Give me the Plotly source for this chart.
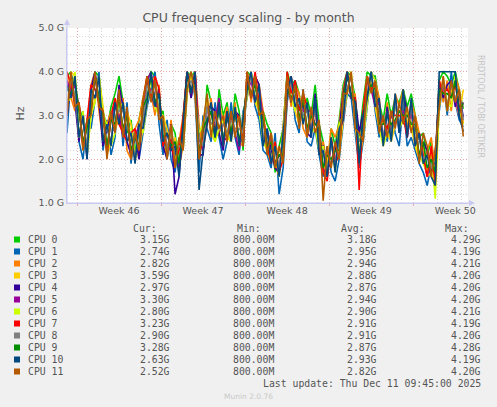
import pandas as pd
import plotly.graph_objects as go

# Data: CPU frequency in GHz, one sample every 8 hours
times = pd.date_range("2025-11-09 04:00", periods=100, freq="8h")

cpu0 = [3.9, 4.0, 3.3, 3.2, 2.9, 2.2, 3.6, 4.0, 3.9, 3.1,
        2.7, 3.2, 3.5, 3.9, 3.3, 2.6, 2.9, 2.1, 2.9, 3.4,
        3.8, 4.0, 3.9, 3.0, 3.1, 2.0, 2.8, 2.6, 1.8, 3.0,
        4.0, 3.9, 4.0, 2.6, 2.2, 3.7, 3.3, 2.4, 3.6, 3.0,
        3.3, 2.5, 3.5, 3.1, 2.2, 4.0, 3.9, 3.8, 3.0, 3.1,
        2.8, 2.6, 1.7, 2.3, 2.7, 4.0, 3.7, 3.8, 3.5, 2.9,
        3.4, 3.0, 3.7, 2.8, 2.4, 1.6, 2.7, 2.3, 2.9, 3.7,
        4.0, 3.9, 3.4, 2.5, 3.3, 4.0, 3.9, 3.9, 3.3, 2.9,
        3.5, 3.0, 3.4, 3.3, 3.6, 3.2, 3.5, 3.0, 2.5, 2.6,
        2.1, 2.4, 1.7, 3.8, 4.0, 3.9, 3.7, 4.0, 3.6, 3.15]
cpu1 = [2.6, 3.9, 3.8, 2.4, 2.0, 2.9, 2.7, 3.4, 4.0, 2.2,
        2.9, 2.1, 2.5, 3.6, 2.3, 3.3, 1.9, 2.7, 2.0, 2.6,
        3.2, 3.6, 4.0, 2.8, 2.1, 2.9, 2.0, 1.7, 2.5, 2.2,
        3.5, 4.0, 3.4, 1.7, 3.0, 2.7, 2.4, 3.3, 2.5, 2.0,
        2.4, 3.3, 2.5, 2.1, 3.1, 3.4, 4.0, 3.2, 2.9, 2.2,
        2.1, 1.8, 2.6, 1.2, 1.8, 3.3, 3.9, 2.9, 2.6, 3.6,
        2.4, 2.3, 2.7, 2.1, 1.6, 2.3, 1.7, 1.5, 2.0, 2.8,
        3.5, 3.4, 2.6, 1.8, 2.4, 3.2, 4.0, 3.1, 2.5, 3.0,
        2.4, 3.1, 2.6, 2.3, 3.3, 2.3, 2.5, 2.2, 1.9, 1.7,
        1.4, 1.9, 2.2, 3.1, 3.8, 3.0, 4.0, 3.3, 2.9, 2.74]
cpu2 = [3.9, 3.4, 3.1, 3.3, 2.2, 2.8, 3.7, 4.0, 3.1, 2.4,
        2.8, 3.1, 2.7, 2.9, 3.4, 2.2, 2.0, 2.7, 2.9, 3.4,
        3.9, 3.5, 3.0, 3.7, 2.3, 2.1, 2.9, 1.8, 2.4, 3.0,
        4.0, 3.4, 4.0, 2.8, 2.2, 2.8, 3.4, 2.5, 2.6, 2.8,
        3.2, 2.5, 3.3, 2.4, 2.3, 4.0, 3.3, 3.9, 3.7, 3.1,
        2.3, 2.6, 1.9, 1.6, 2.8, 3.9, 3.2, 3.7, 3.5, 2.7,
        2.5, 2.9, 3.3, 2.2, 2.4, 1.9, 2.7, 2.5, 2.8, 3.6,
        4.0, 3.4, 3.5, 2.0, 3.1, 3.9, 3.6, 3.8, 3.4, 2.3,
        3.3, 2.6, 3.5, 3.2, 3.6, 2.7, 3.3, 3.0, 2.6, 2.0,
        2.2, 2.5, 1.7, 3.8, 3.3, 3.8, 3.1, 3.9, 3.6, 2.82]
cpu3 = [3.2, 4.0, 3.9, 2.5, 3.0, 2.1, 3.0, 3.4, 3.9, 3.2,
        2.1, 2.4, 3.2, 3.5, 2.6, 3.1, 2.8, 2.0, 2.2, 2.7,
        3.3, 3.9, 3.8, 3.0, 3.0, 2.7, 2.2, 2.5, 1.8, 2.3,
        3.5, 3.9, 3.5, 2.0, 2.8, 3.4, 2.6, 2.4, 3.3, 2.9,
        2.5, 2.4, 3.2, 2.3, 3.0, 3.5, 4.0, 3.3, 3.1, 3.0,
        2.2, 1.9, 2.3, 2.2, 2.0, 3.4, 3.9, 3.1, 2.8, 3.5,
        3.2, 2.7, 2.7, 2.7, 1.7, 2.0, 2.5, 1.9, 2.1, 2.9,
        3.5, 4.0, 2.8, 1.9, 2.5, 3.3, 3.9, 3.2, 2.7, 2.9,
        2.6, 2.4, 2.8, 3.0, 2.9, 2.9, 2.7, 2.3, 2.0, 2.3,
        1.6, 1.7, 1.4, 3.2, 3.9, 3.1, 3.6, 3.3, 3.0, 3.59]
cpu4 = [3.0, 3.8, 3.3, 2.4, 3.1, 2.0, 3.6, 4.0, 3.3, 2.3,
        2.7, 3.0, 2.6, 3.7, 3.2, 2.4, 2.1, 2.6, 2.0, 3.3,
        3.8, 3.5, 3.2, 3.6, 2.3, 2.0, 2.8, 1.2, 1.6, 2.9,
        4.0, 3.4, 3.9, 2.1, 2.1, 3.2, 3.2, 3.1, 2.6, 2.2,
        3.0, 2.5, 3.1, 3.0, 2.3, 3.9, 3.4, 3.9, 3.7, 2.4,
        2.7, 2.2, 1.8, 1.7, 2.6, 3.9, 3.3, 3.8, 2.9, 3.3,
        2.6, 2.5, 3.5, 2.3, 2.3, 1.8, 1.9, 2.2, 2.7, 3.5,
        4.0, 3.4, 3.4, 2.6, 3.1, 3.4, 4.0, 3.8, 2.9, 2.4,
        3.2, 2.5, 3.4, 2.6, 3.5, 3.1, 2.8, 2.9, 2.0, 2.4,
        2.2, 1.7, 2.0, 3.7, 3.4, 3.7, 3.8, 3.2, 3.5, 2.97]
cpu5 = [3.8, 3.5, 3.7, 3.2, 2.3, 2.8, 3.1, 3.9, 3.3, 3.0,
        2.2, 2.9, 3.3, 3.0, 2.5, 3.0, 2.1, 2.5, 2.8, 2.8,
        3.8, 4.0, 3.3, 3.1, 2.8, 2.3, 2.2, 2.4, 1.8, 2.4,
        4.0, 3.5, 4.0, 2.5, 2.2, 3.3, 2.6, 2.9, 3.4, 2.4,
        2.5, 3.0, 2.6, 2.2, 2.9, 3.5, 3.8, 3.3, 3.6, 3.0,
        2.3, 2.5, 1.9, 2.1, 2.0, 3.4, 3.9, 3.2, 3.2, 3.1,
        3.1, 3.1, 2.8, 2.8, 1.8, 1.6, 2.4, 1.9, 2.6, 2.9,
        3.6, 3.9, 2.9, 2.4, 2.6, 3.8, 3.6, 3.2, 3.3, 2.4,
        2.7, 3.0, 2.8, 3.1, 3.1, 2.5, 3.1, 2.3, 2.6, 2.0,
        1.6, 2.2, 1.5, 3.3, 3.7, 3.2, 3.7, 3.4, 3.0, 3.30]
cpu6 = [3.3, 3.4, 4.0, 2.5, 3.1, 2.1, 3.0, 3.3, 3.9, 3.0,
        2.8, 2.3, 2.6, 3.3, 3.2, 2.7, 2.7, 2.0, 2.7, 2.6,
        3.3, 3.9, 3.2, 3.0, 3.0, 2.1, 2.7, 2.0, 2.5, 2.2,
        3.5, 4.0, 3.5, 2.6, 2.8, 3.4, 2.7, 2.4, 2.7, 2.9,
        2.6, 2.4, 3.2, 2.4, 2.9, 3.4, 4.0, 3.4, 3.1, 2.4,
        2.2, 2.0, 2.4, 1.6, 2.6, 3.9, 3.4, 3.1, 3.4, 2.9,
        3.2, 2.6, 2.7, 2.2, 2.3, 1.7, 2.5, 1.7, 2.8, 3.0,
        3.5, 4.0, 2.8, 2.5, 2.5, 3.3, 4.0, 3.8, 2.7, 2.3,
        2.6, 2.5, 3.3, 2.7, 2.9, 3.1, 2.8, 2.4, 2.1, 1.9,
        1.7, 2.2, 1.1, 3.2, 3.8, 3.3, 3.2, 3.9, 3.1, 2.80]
cpu7 = [4.0, 3.7, 3.2, 3.3, 2.3, 2.9, 3.7, 3.6, 3.3, 3.1,
        2.1, 3.0, 3.4, 2.8, 2.6, 2.4, 2.6, 2.7, 2.2, 3.3,
        3.9, 3.4, 3.9, 3.6, 2.3, 2.6, 2.4, 1.9, 2.2, 2.9,
        4.0, 3.5, 4.0, 2.0, 2.6, 2.8, 3.1, 2.6, 3.3, 2.3,
        3.1, 2.5, 3.1, 2.9, 2.4, 4.0, 3.4, 4.0, 3.3, 3.0,
        2.3, 1.9, 2.4, 1.7, 2.0, 4.0, 3.5, 3.8, 3.1, 3.5,
        3.2, 2.6, 3.2, 2.3, 1.7, 1.5, 2.5, 1.9, 2.1, 3.4,
        4.0, 3.4, 3.4, 1.3, 3.1, 3.9, 3.6, 3.7, 2.8, 2.9,
        2.7, 3.1, 3.0, 3.0, 3.0, 2.5, 3.3, 2.4, 2.6, 2.1,
        1.6, 2.3, 1.4, 3.8, 3.5, 3.6, 3.4, 3.7, 3.2, 3.23]
cpu8 = [3.1, 3.9, 3.4, 2.6, 2.9, 2.3, 3.4, 3.4, 3.8, 2.5,
        2.7, 2.4, 3.2, 3.1, 3.1, 2.7, 2.6, 2.0, 2.7, 2.8,
        3.7, 3.5, 3.7, 3.0, 2.9, 2.2, 2.7, 2.1, 2.3, 2.3,
        3.6, 3.8, 3.5, 2.5, 2.3, 3.2, 2.8, 2.9, 2.7, 2.8,
        2.6, 2.9, 2.7, 2.7, 2.6, 3.5, 3.9, 3.4, 3.6, 2.5,
        2.6, 2.0, 2.3, 1.8, 2.5, 3.5, 3.8, 3.2, 3.3, 3.0,
        3.1, 2.6, 3.2, 2.3, 2.2, 1.7, 2.4, 1.8, 2.6, 3.0,
        3.6, 3.9, 2.9, 2.4, 2.6, 3.4, 4.0, 3.3, 3.2, 2.4,
        3.1, 2.5, 3.3, 2.7, 3.4, 2.6, 3.2, 2.4, 2.5, 2.0,
        2.1, 1.8, 2.0, 3.3, 3.8, 3.2, 3.7, 3.4, 3.5, 2.90]
cpu9 = [3.6, 3.5, 3.8, 3.1, 2.4, 2.7, 3.1, 3.9, 3.4, 3.0,
        2.3, 2.9, 2.8, 3.4, 2.7, 3.0, 2.2, 2.5, 2.3, 3.2,
        3.4, 3.9, 3.3, 3.5, 2.5, 2.6, 2.3, 2.4, 1.9, 2.7,
        3.9, 3.6, 3.7, 2.1, 2.7, 2.9, 3.1, 2.5, 3.2, 2.4,
        3.0, 2.6, 3.1, 2.4, 2.9, 3.7, 3.5, 3.7, 3.2, 2.9,
        2.3, 2.4, 1.9, 2.1, 2.1, 3.6, 3.4, 3.6, 2.9, 3.4,
        2.7, 3.0, 2.8, 2.7, 1.8, 2.1, 2.0, 2.2, 2.2, 3.4,
        3.9, 3.5, 3.3, 2.0, 3.0, 3.5, 3.7, 3.6, 2.8, 2.8,
        3.0, 2.8, 2.9, 3.1, 3.0, 3.0, 2.8, 2.8, 2.1, 2.4,
        1.8, 2.0, 1.7, 3.6, 3.5, 3.5, 3.4, 3.8, 3.1, 3.28]
cpu10 = [3.7, 3.4, 3.9, 2.5, 3.0, 2.0, 3.6, 3.4, 3.9, 2.4,
         2.8, 2.3, 3.3, 2.8, 3.3, 2.4, 2.6, 1.9, 2.8, 2.7,
         3.3, 4.0, 3.2, 3.5, 2.4, 2.6, 2.2, 2.3, 1.6, 2.9,
         4.0, 3.5, 4.0, 1.3, 2.2, 2.8, 3.3, 2.5, 3.3, 2.3,
         3.1, 2.4, 3.2, 2.3, 2.9, 3.6, 4.0, 3.3, 3.7, 2.3,
         2.7, 1.9, 2.3, 1.6, 2.6, 3.5, 3.9, 3.2, 3.4, 2.8,
         3.3, 2.5, 3.4, 2.1, 2.2, 1.6, 2.5, 1.7, 2.7, 2.9,
         4.0, 3.4, 3.3, 1.9, 3.0, 3.4, 4.0, 3.2, 3.4, 2.3,
         3.1, 2.4, 3.5, 2.6, 3.6, 2.5, 3.4, 2.3, 2.6, 1.9,
         2.1, 1.6, 1.4, 4.0, 4.0, 4.0, 4.0, 4.0, 3.0, 2.63]
cpu11 = [3.0, 4.0, 3.2, 3.3, 2.2, 2.9, 3.0, 4.0, 3.2, 3.1,
         2.0, 3.1, 2.6, 3.6, 2.5, 3.2, 2.0, 2.6, 2.2, 3.3,
         3.9, 3.3, 3.8, 2.9, 3.0, 2.0, 2.8, 1.8, 2.5, 2.2,
         3.6, 4.0, 3.5, 2.0, 2.8, 3.5, 2.5, 3.1, 2.7, 3.0,
         2.4, 3.1, 2.5, 3.0, 2.3, 4.0, 3.4, 3.9, 3.0, 3.1,
         2.1, 2.6, 1.8, 2.3, 1.9, 3.9, 3.3, 3.7, 2.7, 3.6,
         2.5, 3.2, 2.6, 2.9, 1.05, 2.3, 1.8, 2.4, 2.0, 3.5,
         3.5, 4.0, 2.7, 2.6, 2.4, 3.9, 3.5, 3.8, 2.6, 3.0,
         2.5, 3.1, 2.7, 3.3, 2.8, 3.2, 2.6, 3.0, 1.9, 2.6,
         2.3, 1.6, 2.2, 3.2, 3.9, 3.1, 3.8, 3.3, 3.6, 2.52]

series = [cpu0, cpu1, cpu2, cpu3, cpu4, cpu5, cpu6, cpu7, cpu8, cpu9, cpu10, cpu11]
names = ["CPU 0", "CPU 1", "CPU 2", "CPU 3", "CPU 4", "CPU 5",
         "CPU 6", "CPU 7", "CPU 8", "CPU 9", "CPU 10", "CPU 11"]
colors = ["#00CC00", "#0066B3", "#FF8000", "#FFCC00", "#330099", "#990099",
          "#CCFF00", "#FF0000", "#808080", "#008F00", "#00487D", "#B35A00"]

# Legend statistics (GHz)
cur = [3.15, 2.74, 2.82, 3.59, 2.97, 3.30, 2.80, 3.23, 2.90, 3.28, 2.63, 2.52]
mins = [0.80, 0.80, 0.80, 0.80, 0.80, 0.80, 0.80, 0.80, 0.80, 0.80, 0.80, 0.80]
avgs = [3.18, 2.95, 2.94, 2.88, 2.87, 2.94, 2.90, 2.91, 2.91, 2.87, 2.93, 2.82]
maxs = [4.29, 4.19, 4.21, 4.20, 4.20, 4.20, 4.21, 4.19, 4.20, 4.28, 4.19, 4.20]

# Axes
y_ticks = [1, 2, 3, 4, 5]
y_labels = ["1.0 G", "2.0 G", "3.0 G", "4.0 G", "5.0 G"]
week_starts = ["2025-11-10", "2025-11-17", "2025-11-24", "2025-12-01", "2025-12-08"]
week_mids = ["2025-11-13 12:00", "2025-11-20 12:00", "2025-11-27 12:00",
             "2025-12-04 12:00", "2025-12-11 12:00"]
week_labels = ["Week 46", "Week 47", "Week 48", "Week 49", "Week 50"]
x_range = ["2025-11-09 04:00", "2025-12-12 13:30"]

for s in series:
    assert len(s) == len(times)

# plot area in pixels
L, R, T, B = 67, 468, 28, 203
W, H = 497, 407


def px(x):
    return (x - L) / (R - L)


def py(y):
    return (B - y) / (B - T)


def fmt(v):
    return f"{v * 1000:.2f}M" if v < 1 else f"{v:.2f}G"


fig = go.Figure()
for s, name, color in zip(series, names, colors):
    fig.add_trace(go.Scatter(x=times, y=s, name=name, mode="lines",
                             line=dict(color=color, width=1.6)))

# empty trace so the week label axis is drawn
fig.add_trace(go.Scatter(x=x_range, y=[None, None], xaxis="x2", showlegend=False, hoverinfo="skip"))

text_color = "#555555"
major = "#E8A8A8"
minor = "#D6D6D6"
axis_col = "#C8C8F0"

fig.update_layout(
    width=W, height=H,
    margin=dict(l=L, r=W - R, t=T, b=H - B),
    paper_bgcolor="#F0F0F0", plot_bgcolor="white",
    showlegend=False,
    font=dict(family="DejaVu Sans", color=text_color, size=10),
    title=dict(text="CPU frequency scaling - by month", x=0.5, xanchor="center",
               y=1 - 18 / H, yanchor="middle", font=dict(size=12.5, color=text_color)),
    xaxis=dict(type="date", range=x_range, tickvals=week_starts, showticklabels=False,
               showgrid=True, gridcolor=major, griddash="1px,2px", gridwidth=1,
               ticks="outside", ticklen=2, tickcolor=major,
               minor=dict(dtick=86400000, tick0="2025-11-10", showgrid=True,
                          gridcolor=minor, griddash="1px,2px", ticks=""),
               showline=True, linecolor=axis_col, linewidth=1, zeroline=False),
    xaxis2=dict(type="date", range=x_range, overlaying="x", side="bottom",
                tickvals=week_mids, ticktext=week_labels, showgrid=False,
                showline=False, ticks="", tickfont=dict(size=9.5, color=text_color)),
    yaxis=dict(range=[1, 5], tickvals=y_ticks, ticktext=y_labels,
               showgrid=True, gridcolor=major, griddash="1px,2px", gridwidth=1,
               minor=dict(dtick=0.2, tick0=1, showgrid=True, gridcolor=minor,
                          griddash="1px,2px", ticks=""),
               ticks="", tickfont=dict(size=9.5, color=text_color),
               showline=True, linecolor=axis_col, linewidth=1, zeroline=False),
)

# axis arrows
fig.add_shape(type="line", xref="paper", yref="paper", x0=0, x1=0, y0=0, y1=py(23),
              line=dict(color=axis_col, width=1))
fig.add_shape(type="path", xref="paper", yref="paper", fillcolor=axis_col, line=dict(width=0),
              path=f"M {px(64)} {py(25)} L {px(70)} {py(25)} L {px(67)} {py(19)} Z")
fig.add_shape(type="line", xref="paper", yref="paper", x0=0, x1=px(471), y0=0, y1=0,
              line=dict(color=axis_col, width=1))
fig.add_shape(type="path", xref="paper", yref="paper", fillcolor=axis_col, line=dict(width=0),
              path=f"M {px(469)} {py(200)} L {px(469)} {py(206)} L {px(475)} {py(203)} Z")

# y axis title and side text
fig.add_annotation(x=px(11), y=py(114), xref="paper", yref="paper", text="Hz",
                   textangle=-90, showarrow=False, font=dict(size=11, color=text_color))
fig.add_annotation(x=px(487), y=py(53), xref="paper", yref="paper",
                   text="RRDTOOL / TOBI OETIKER", textangle=90, showarrow=False,
                   font=dict(size=8, color="#C4C4C4"))

# legend table
mono = dict(family="DejaVu Sans Mono", size=9.8, color=text_color)
for head, xr in zip(["Cur:", "Min:", "Avg:", "Max:"], [159, 263, 367, 471]):
    fig.add_annotation(x=px(xr), y=py(228), xref="paper", yref="paper", text=head,
                       xanchor="right", yanchor="middle", showarrow=False, font=mono)

for i, name in enumerate(names):
    yc = 239.5 + 12 * i
    fig.add_shape(type="rect", xref="paper", yref="paper", fillcolor=colors[i],
                  line=dict(width=0), x0=px(14), x1=px(20), y0=py(yc + 3), y1=py(yc - 3))
    fig.add_annotation(x=px(26), y=py(yc), xref="paper", yref="paper", text=name,
                       xanchor="left", yanchor="middle", showarrow=False, font=mono)
    for v, xr in zip([cur[i], mins[i], avgs[i], maxs[i]], [172, 276, 379, 483]):
        fig.add_annotation(x=px(xr), y=py(yc), xref="paper", yref="paper", text=fmt(v),
                           xanchor="right", yanchor="middle", showarrow=False, font=mono)

fig.add_annotation(x=px(483), y=py(383.5), xref="paper", yref="paper",
                   text="Last update: Thu Dec 11 09:45:00 2025",
                   xanchor="right", yanchor="middle", showarrow=False, font=mono)
fig.add_annotation(x=px(248), y=py(396.5), xref="paper", yref="paper", text="Munin 2.0.76",
                   xanchor="center", yanchor="middle", showarrow=False,
                   font=dict(size=7.5, color="#C8C8C8"))

# drop the page margin so the figure sits at the window corner
fig.write_html("out.html", config={"displayModeBar": False},
               post_script="document.body.style.margin = '0';")
